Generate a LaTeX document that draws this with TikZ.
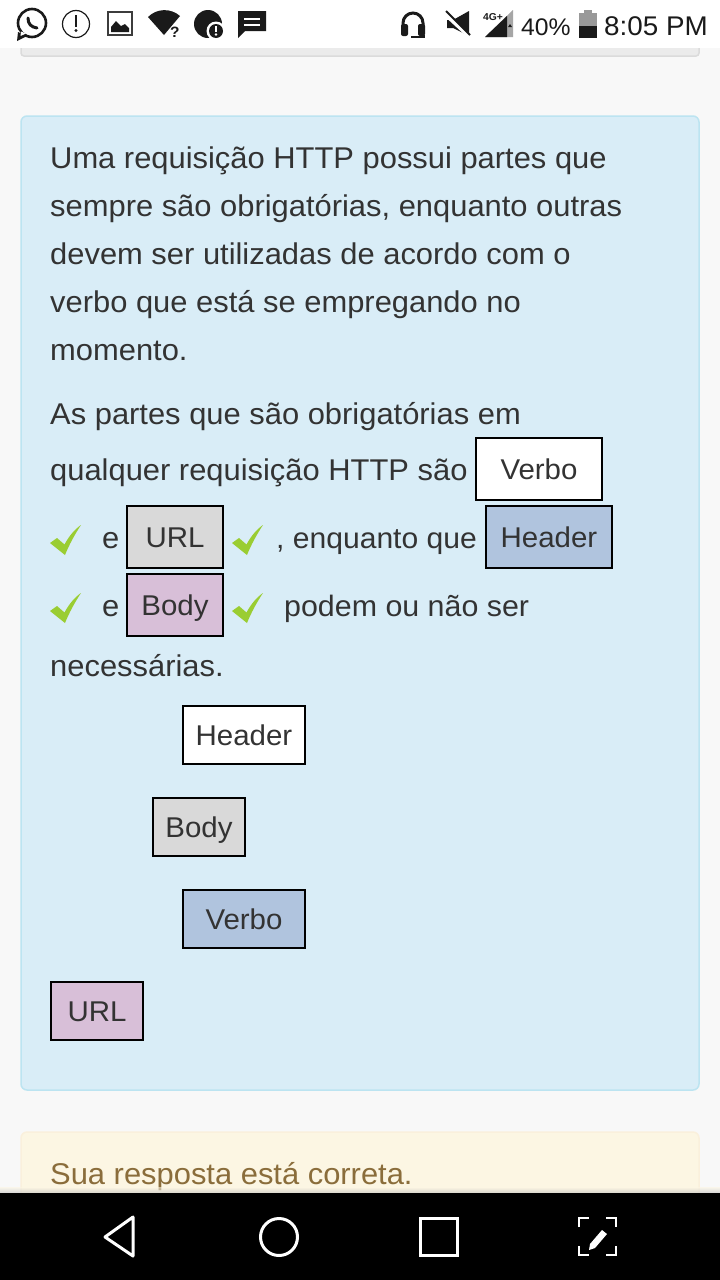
\documentclass[tikz,border=0pt]{standalone}
\usepackage{fontspec}
\setmainfont[FakeStretch=1.03]{Liberation Sans}
\definecolor{pagebg}{HTML}{F8F8F8}
\definecolor{infobg}{HTML}{D9EDF7}
\definecolor{infoline}{HTML}{BCE4F1}
\definecolor{warnbg}{HTML}{FCF6E3}
\definecolor{warnline}{HTML}{FAF0DC}
\definecolor{warntext}{HTML}{8A6D3B}
\definecolor{bodytext}{HTML}{333333}
\definecolor{boxgray}{HTML}{D9D9D9}
\definecolor{boxblue}{HTML}{B0C4DE}
\definecolor{boxplum}{HTML}{D8BFD8}
\definecolor{checkgreen}{HTML}{9ACD32}
\definecolor{icondark}{HTML}{1A1A1A}
\tikzset{
  textline/.style={
    anchor=base west,
    inner sep=0pt,
    font=\fontsize{30}{36}\selectfont,
    text=bodytext
  },
  barlabel/.style={
    anchor=base west,
    inner sep=0pt,
    text=icondark
  },
  dropbox/.style={
    draw=black,
    line width=2pt,
    inner sep=0pt,
    align=center,
    text height=21pt,
    text depth=0pt,
    font=\fontsize{28.6}{34}\selectfont,
    text=bodytext
  },
  navicon/.style={
    draw=white,
    line width=3pt
  },
  check/.pic={
    \fill[checkgreen] (0,0) -- (7,-5) -- (14.5,1.5) .. controls (19,-7) and (25,-14) .. (31,-18)
      .. controls (25,-9) and (19,2) .. (15,12) -- cycle;
  }
}

\begin{document}
\begin{tikzpicture}[x=1pt, y=-1pt]
  \useasboundingbox (0,0) rectangle (720,1280);
  \fill[pagebg] (0,0) rectangle (720,1280);

  % 1. painel anterior, cortado pela barra de estado
  \filldraw[fill=black!8, draw=black!14, line width=1.5pt, rounded corners=3pt] (21,20) rectangle (699,56);
  \fill[white] (0,0) rectangle (720,48);

  % 2. painel azul
  \filldraw[fill=infobg, draw=infoline, line width=1.5pt, rounded corners=6pt] (21,116) rectangle (699,1090);

  % 3. texto do enunciado
  \node[textline] (line1) at (50,168) {Uma requisição HTTP possui partes que};
  \node[textline] (line2) at (50,216) {sempre são obrigatórias, enquanto outras};
  \node[textline] (line3) at (50,264) {devem ser utilizadas de acordo com o};
  \node[textline] (line4) at (50,312) {verbo que está se empregando no};
  \node[textline] (line5) at (50,360) {momento.};
  \node[textline] (line6) at (50,424) {As partes que são obrigatórias em};
  \node[textline] (line7) at (50,480) {qualquer requisição HTTP são};
  \node[textline] (and1) at (102,548) {e};
  \node[textline, font=\fontsize{29.2}{36}\selectfont] (while) at (276,548) {, enquanto que};
  \node[textline] (and2) at (102,616) {e};
  \node[textline, font=\fontsize{29.5}{36}\selectfont] (maybe) at (284,616) {podem ou não ser};
  \node[textline] (line10) at (50,676) {necessárias.};

  % 4. respostas colocadas
  \node[dropbox, fill=white, minimum width=126pt, minimum height=62pt] (verboA) at (539,469) {Verbo};
  \node[dropbox, fill=boxgray, minimum width=96pt, minimum height=62pt] (urlA) at (175,537) {URL};
  \node[dropbox, fill=boxblue, minimum width=126pt, minimum height=62pt] (headerA) at (549,537) {Header};
  \node[dropbox, fill=boxplum, minimum width=96pt, minimum height=62pt] (bodyA) at (175,605) {Body};

  % 5. marcas de correto
  \pic at (50,543) {check};
  \pic at (232,543) {check};
  \pic at (50,611) {check};
  \pic at (232,611) {check};

  % 6. opções soltas
  \node[dropbox, fill=white, minimum width=122pt, minimum height=58pt] (headerB) at (244,735) {Header};
  \node[dropbox, fill=boxgray, minimum width=92pt, minimum height=58pt] (bodyB) at (199,827) {Body};
  \node[dropbox, fill=boxblue, minimum width=122pt, minimum height=58pt] (verboB) at (244,919) {Verbo};
  \node[dropbox, fill=boxplum, minimum width=92pt, minimum height=58pt] (urlB) at (97,1011) {URL};

  % 7. painel amarelo e barra de navegação
  \filldraw[fill=warnbg, draw=warnline, line width=1.5pt, rounded corners=6pt] (21,1132) rectangle (699,1240);
  \node[textline, text=warntext] (feedback) at (50,1184) {Sua resposta está correta.};
  \shade[top color=warnbg, bottom color=black!25, opacity=0.6] (0,1187) rectangle (720,1193);
  \fill[black] (0,1193) rectangle (720,1280);
  \draw[navicon, line join=round] (133,1217) -- (105,1237) -- (133,1256) -- cycle;
  \draw[navicon] (279,1237) circle (18.5);
  \draw[navicon] (420,1218) rectangle (457,1255);
  \draw[navicon, line width=2.5pt] (579,1227) -- (579,1218) -- (589,1218);
  \draw[navicon, line width=2.5pt] (606,1218) -- (616,1218) -- (616,1227);
  \draw[navicon, line width=2.5pt] (579,1246) -- (579,1255) -- (589,1255);
  \draw[navicon, line width=2.5pt] (606,1255) -- (616,1255) -- (616,1246);
  \fill[white] (590,1244) -- (589,1250) -- (595,1248) -- (607,1234) -- (602,1230) -- cycle;

  % 8. ícones da barra de estado
  \draw[icondark, line width=2.6pt] (32,23) circle (14);
  \fill[icondark] (18,32) -- (17,41) -- (27,36) -- cycle;
  \fill[white] (21,31.5) -- (20.5,36) -- (26,33.5) -- cycle;
  \draw[icondark, line width=3pt, line cap=round] (28,18) .. controls (28,24) and (31,27) .. (37,28);
  \draw[icondark, line width=1.2pt] (76,24) circle (13.5);
  \fill[icondark] (74.6,15) rectangle (77.4,27);
  \fill[icondark] (76,30.5) circle (1.6);
  \draw[icondark!85, line width=1.6pt] (108,12) rectangle (132,35);
  \fill[icondark] (111,32) -- (111,27) -- (116,21) -- (121,26) -- (125,24) -- (129,28) -- (129,32) -- cycle;
  \fill[icondark] (148,17) .. controls (157,8) and (171,8) .. (180,16) -- (164,35) -- cycle;
  \node[barlabel, font=\bfseries\fontsize{15}{15}\selectfont] (wifiq) at (170,37) {?};
  \fill[icondark] (208,24) circle (14);
  \fill[white] (216,31) circle (9.5);
  \fill[icondark] (216,31) circle (7);
  \fill[white] (214.8,26) rectangle (217.2,32);
  \fill[white] (216,34.5) circle (1.3);
  \fill[icondark] (238,11) -- (266,11) -- (266,31) -- (245,31) -- (238,38) -- cycle;
  \draw[white, line width=1.6pt] (244,19) -- (260,19) (244,25) -- (260,25);
  % fones
  \draw[icondark, line width=3pt] (403,28) -- (403,23) arc[start angle=180, end angle=360, radius=10] -- (423,28);
  \fill[icondark, rounded corners=2pt] (401,24) rectangle (408,36);
  \fill[icondark, rounded corners=2pt] (418,24) rectangle (425,36);
  \draw[icondark, line width=1.4pt] (424,35) -- (424,37) -- (411,37);
  % som mudo
  \fill[icondark] (447,20) -- (453,20) -- (469,11) -- (469,36) -- (453,28) -- (447,28) -- cycle;
  \draw[white, line width=4pt] (444,13) -- (470,37);
  \draw[icondark, line width=2pt] (446,11) -- (470,35);
  % sinal
  \fill[black!35] (485,37) -- (513,10) -- (513,37) -- cycle;
  \fill[icondark] (485,37) -- (507,16) -- (507,37) -- cycle;
  \fill[icondark] (508,27) -- (510,24) -- (512,27) -- cycle;
  \node[barlabel, font=\bfseries\fontsize{10}{10}\selectfont] (netlabel) at (483,20) {4G+};
  \node[barlabel, font=\fontsize{24}{24}\selectfont] (percent) at (521,35) {40\%};
  % bateria
  \fill[black!40] (584,10) rectangle (592,14);
  \fill[black!40] (579,13) rectangle (597,26);
  \fill[icondark] (579,26) rectangle (597,38);
  \node[barlabel, font=\fontsize{27}{27}\selectfont] (clock) at (604,35) {8:05 PM};
\end{tikzpicture}
\end{document}
